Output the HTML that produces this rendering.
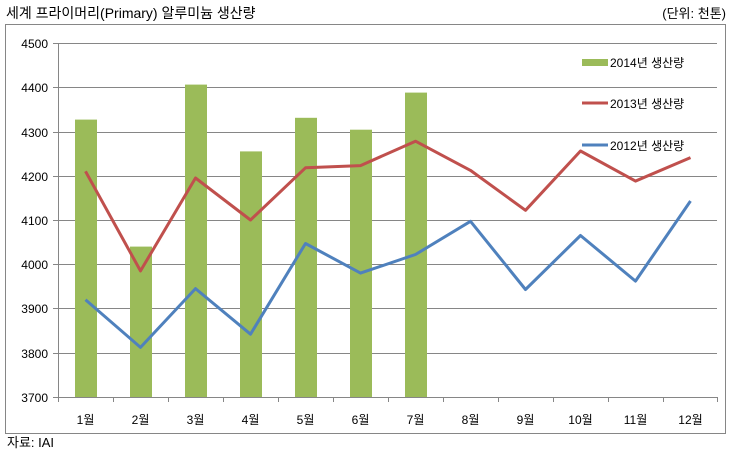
<!DOCTYPE html>
<html><head><meta charset="utf-8"><style>
html,body{margin:0;padding:0;background:#fff;width:731px;height:453px;overflow:hidden}
svg text{font-family:"Liberation Sans","Noto Sans CJK KR","NanumGothic",sans-serif;fill:#000}
</style></head><body>
<svg width="731" height="453" viewBox="0 0 731 453" xmlns="http://www.w3.org/2000/svg">
<text x="6" y="18" font-size="14">세계 프라이머리(Primary) 알루미늄 생산량</text>
<text x="726" y="18" font-size="13" text-anchor="end">(단위: 천톤)</text>
<rect x="5.5" y="24.5" width="720" height="409" fill="none" stroke="#868686"/>
<g stroke="#868686" stroke-width="1">
<line x1="58" y1="43.5" x2="717" y2="43.5"/>
<line x1="58" y1="87.5" x2="717" y2="87.5"/>
<line x1="58" y1="132.5" x2="717" y2="132.5"/>
<line x1="58" y1="176.5" x2="717" y2="176.5"/>
<line x1="58" y1="220.5" x2="717" y2="220.5"/>
<line x1="58" y1="264.5" x2="717" y2="264.5"/>
<line x1="58" y1="308.5" x2="717" y2="308.5"/>
<line x1="58" y1="353.5" x2="717" y2="353.5"/>
<line x1="53" y1="397.5" x2="717" y2="397.5"/>
<line x1="58.5" y1="43" x2="58.5" y2="397"/>
<line x1="53" y1="43.5" x2="58" y2="43.5"/><line x1="53" y1="87.5" x2="58" y2="87.5"/><line x1="53" y1="132.5" x2="58" y2="132.5"/><line x1="53" y1="176.5" x2="58" y2="176.5"/><line x1="53" y1="220.5" x2="58" y2="220.5"/><line x1="53" y1="264.5" x2="58" y2="264.5"/><line x1="53" y1="308.5" x2="58" y2="308.5"/><line x1="53" y1="353.5" x2="58" y2="353.5"/>
<path d="M58.5 397v5M113.5 397v5M168.5 397v5M223.5 397v5M278.5 397v5M333.5 397v5M388.5 397v5M443.5 397v5M498.5 397v5M553.5 397v5M608.5 397v5M663.5 397v5M717.5 397v5"/>
</g>
<g font-size="12" text-anchor="end">
<text x="48" y="48">4500</text><text x="48" y="92">4400</text><text x="48" y="137">4300</text><text x="48" y="181">4200</text><text x="48" y="225">4100</text><text x="48" y="269">4000</text><text x="48" y="313">3900</text><text x="48" y="358">3800</text><text x="48" y="402">3700</text>
</g>
<g font-size="12" text-anchor="middle">
<text x="85.5" y="424">1월</text><text x="140.5" y="424">2월</text><text x="195.5" y="424">3월</text><text x="250.5" y="424">4월</text><text x="305.5" y="424">5월</text><text x="360.5" y="424">6월</text><text x="415.5" y="424">7월</text><text x="470.5" y="424">8월</text><text x="525.5" y="424">9월</text><text x="580.5" y="424">10월</text><text x="635.5" y="424">11월</text><text x="690.5" y="424">12월</text>
</g>
<g fill="#9bbb59">
<rect x="75" y="119.6" width="22" height="277.4"/>
<rect x="130" y="246.6" width="22" height="150.4"/>
<rect x="185" y="84.6" width="22" height="312.4"/>
<rect x="240" y="151.4" width="22" height="245.6"/>
<rect x="295" y="117.8" width="22" height="279.2"/>
<rect x="350" y="129.7" width="22" height="267.3"/>
<rect x="405" y="92.6" width="22" height="304.4"/>
</g>
<polyline fill="none" stroke="#c0504d" stroke-width="3" stroke-linejoin="round" points="85.5,171.3 140.5,270.9 195.5,178 250.5,220 305.5,167.8 360.5,165.6 415.5,141.2 470.5,170.4 525.5,210.3 580.5,151 635.5,181.1 690.5,157.6"/>
<polyline fill="none" stroke="#4f81bd" stroke-width="3" stroke-linejoin="round" points="85.5,299.7 140.5,347.4 195.5,288.6 250.5,334.2 305.5,243.5 360.5,273.1 415.5,254.5 470.5,221.3 525.5,289.5 580.5,235.5 635.5,281.1 690.5,201"/>
<rect x="582" y="59" width="26" height="7" fill="#9bbb59"/>
<line x1="582" y1="103" x2="608" y2="103" stroke="#c0504d" stroke-width="3"/>
<line x1="582" y1="145" x2="608" y2="145" stroke="#4f81bd" stroke-width="3"/>
<g font-size="12">
<text x="610" y="67">2014년 생산량</text>
<text x="610" y="108">2013년 생산량</text>
<text x="610" y="150">2012년 생산량</text>
</g>
<text x="7" y="447" font-size="13">자료: IAI</text>
</svg>
</body></html>
